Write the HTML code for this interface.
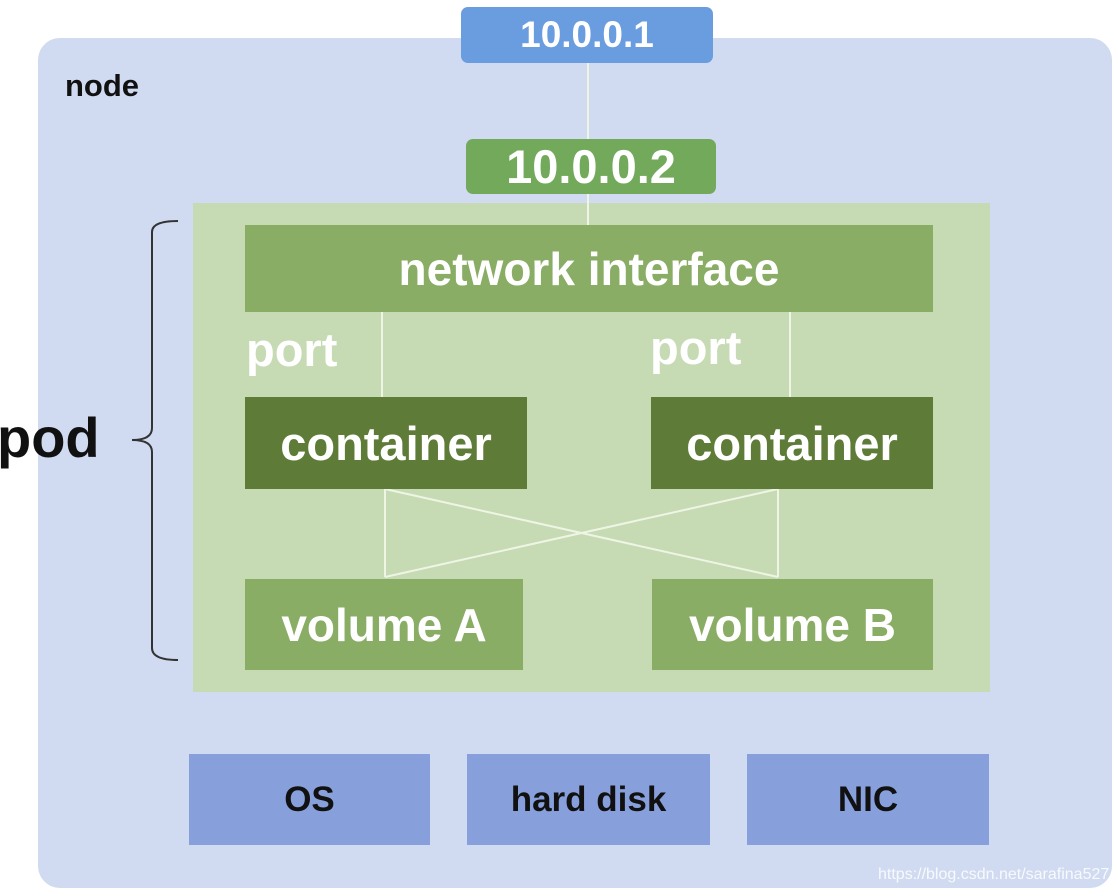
<!DOCTYPE html>
<html><head><style>
html,body{margin:0;padding:0;background:#fff;}
body{width:1118px;height:896px;position:relative;overflow:hidden;font-family:"Liberation Sans",sans-serif;font-weight:bold;}
.b{position:absolute;display:flex;align-items:center;justify-content:center;}
.w{color:#fff;}
</style></head><body>
<div class="b" style="left:38px;top:38px;width:1074px;height:850px;background:#d0dbf1;border-radius:22px;"></div>
<div style="position:absolute;left:65px;top:68px;font-size:31px;color:#111;">node</div>
<div class="b" style="left:193px;top:203px;width:797px;height:489px;background:#c6dab4;"></div>
<svg style="position:absolute;left:0;top:0" width="1118" height="896">
<g stroke="#eef5e4" stroke-width="2" fill="none">
<line x1="588" y1="63" x2="588" y2="139"/>
<line x1="588" y1="194" x2="588" y2="225"/>
<line x1="382" y1="312" x2="382" y2="397"/>
<line x1="790" y1="312" x2="790" y2="397"/>
<line x1="385" y1="489" x2="385" y2="577"/>
<line x1="778" y1="489" x2="778" y2="577"/>
<line x1="385" y1="489" x2="778" y2="577"/>
<line x1="778" y1="489" x2="385" y2="577"/>
</g>
<path d="M178 221 Q152 221 152 232 L152 428 Q152 440 132 440 Q152 440 152 452 L152 648 Q152 660 178 660" stroke="#333" stroke-width="2" fill="none"/>
</svg>
<div class="b w" style="left:461px;top:7px;width:252px;height:56px;background:#6a9ce0;border-radius:7px;font-size:37px;">10.0.0.1</div>
<div class="b w" style="left:466px;top:139px;width:250px;height:55px;background:#72a95b;border-radius:7px;font-size:47px;">10.0.0.2</div>
<div class="b w" style="left:245px;top:225px;width:688px;height:87px;background:#8aad66;font-size:46px;">network interface</div>
<div style="position:absolute;left:246px;top:322px;font-size:47px;color:#fff;">port</div>
<div style="position:absolute;left:650px;top:320px;font-size:47px;color:#fff;">port</div>
<div class="b w" style="left:245px;top:397px;width:282px;height:92px;background:#5e7c38;font-size:47px;">container</div>
<div class="b w" style="left:651px;top:397px;width:282px;height:92px;background:#5e7c38;font-size:47px;">container</div>
<div class="b w" style="left:245px;top:579px;width:278px;height:91px;background:#8aad66;font-size:46px;">volume A</div>
<div class="b w" style="left:652px;top:579px;width:281px;height:91px;background:#8aad66;font-size:46px;">volume B</div>
<div class="b" style="left:189px;top:754px;width:241px;height:91px;background:#87a0dc;font-size:35px;color:#111;">OS</div>
<div class="b" style="left:467px;top:754px;width:243px;height:91px;background:#87a0dc;font-size:35px;color:#111;">hard disk</div>
<div class="b" style="left:747px;top:754px;width:242px;height:91px;background:#87a0dc;font-size:35px;color:#111;">NIC</div>
<div style="position:absolute;left:-3px;top:405px;font-size:56px;color:#111;">pod</div>
<div style="position:absolute;left:878px;top:866px;font-size:16px;font-weight:normal;color:#fff;opacity:0.85;">https://blog.csdn.net/sarafina527</div>
</body></html>
